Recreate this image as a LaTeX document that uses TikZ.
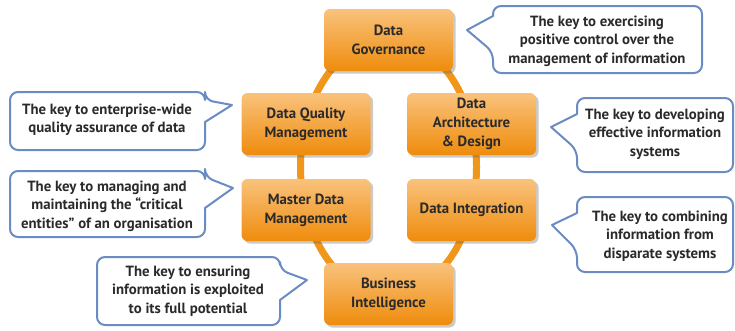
\documentclass[tikz,border=0pt]{standalone}
\usepackage{fontspec}
\setmainfont{PT Sans}
\usetikzlibrary{shadows}
\definecolor{ringc}{HTML}{F0961A}
\definecolor{otop}{HTML}{F9C27C}
\definecolor{obot}{HTML}{EF8C0C}
\definecolor{cblue}{HTML}{6A8CC2}
\definecolor{txt}{HTML}{2A2A2A}
\tikzset{
  obox/.style={rounded corners=6pt, top color=otop, bottom color=obot, draw=none,
    minimum width=129pt, minimum height=62pt, align=center, text=txt,
    font=\fontsize{14.8}{18.8}\selectfont\bfseries,
    drop shadow={shadow xshift=2.5pt, shadow yshift=-2.5pt, opacity=0.35, fill=black!60}},
  ctext/.style={align=center, text=txt, font=\fontsize{14.8}{18.5}\selectfont\bfseries, inner sep=0pt},
  cbox/.style={draw=cblue, line width=2pt, fill=white, line join=round}
}
\begin{document}
\begin{tikzpicture}[x=1pt,y=-1pt]
\useasboundingbox (0,0) rectangle (735,330);
% ring
\draw[ringc, line width=7pt] (388.5,167) ellipse [x radius=88, y radius=128];
% orange boxes
\node[obox] (dg)  at (388.5,40)  {Data\\Governance};
\node[obox] (dqm) at (306,124)   {Data Quality\\Management};
\node[obox] (dad) at (471.5,124) {Data\\Architecture\\\& Design};
\node[obox] (mdm) at (306,210)   {Master Data\\Management};
\node[obox] (di)  at (471.5,210) {Data Integration};
\node[obox] (bi)  at (388.5,294) {Business\\Intelligence};
% callouts: pointer to the left
\draw[cbox] (600,6) [rounded corners=8pt] -- (702,6) -- (702,73) -- (493,73) -- (493,52) [sharp corners] -- (467,30) -- (493,16) [rounded corners=8pt] -- (493,6) -- (600,6);
\draw[cbox] (655,98) [rounded corners=8pt] -- (733,98) -- (733,172) -- (577,172) -- (577,150) [sharp corners] -- (551,127) -- (577,114) [rounded corners=8pt] -- (577,98) -- (655,98);
\draw[cbox] (655,197) [rounded corners=8pt] -- (733,197) -- (733,272) -- (577,272) -- (577,250) [sharp corners] -- (552,225) -- (577,213) [rounded corners=8pt] -- (577,197) -- (655,197);
% callouts: pointer to the right
\draw[cbox] (100,92) [rounded corners=8pt] -- (205,92) -- (205,100) [sharp corners] -- (232,105) -- (205,122) [rounded corners=8pt] -- (205,150) -- (10,150) -- (10,92) -- (100,92);
\draw[cbox] (100,171) [rounded corners=8pt] -- (205,171) -- (205,177) [sharp corners] -- (233,188) -- (205,208) [rounded corners=8pt] -- (205,237) -- (10,237) -- (10,171) -- (100,171);
\draw[cbox] (190,257) [rounded corners=8pt] -- (280,257) -- (280,270) [sharp corners] -- (307,280) -- (280,300) [rounded corners=8pt] -- (280,325) -- (97,325) -- (97,257) -- (190,257);
% callout texts
\node[ctext] (t1) at (597,41)  {The key to exercising\\positive control over the\\management of information};
\node[ctext] (t2) at (655,134) {The key to developing\\effective information\\systems};
\node[ctext] (t3) at (660,236) {The key to combining\\information from\\disparate systems};
\node[ctext] (t4) at (107,120) {The key to enterprise-wide\\quality assurance of data};
\node[ctext] (t5) at (107,206) {The key to managing and\\maintaining the “critical\\entities” of an organisation};
\node[ctext] (t6) at (188,291) {The key to ensuring\\information is exploited\\to its full potential};
\end{tikzpicture}
\end{document}
